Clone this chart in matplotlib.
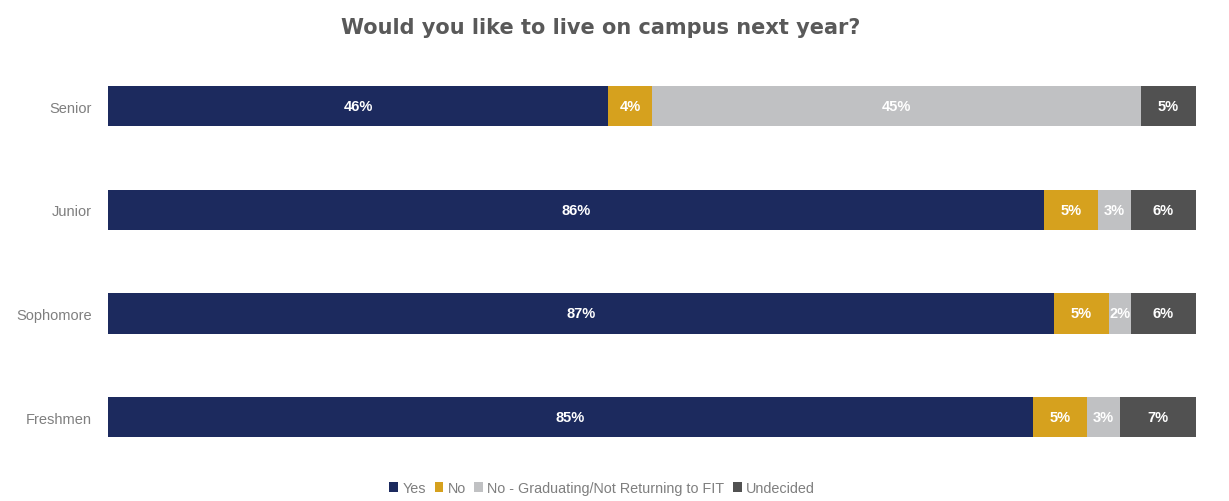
import numpy as np
import matplotlib.pyplot as plt

plt.rcParams['font.family'] = ['Liberation Sans', 'DejaVu Sans']

classes = ['Freshmen', 'Sophomore', 'Junior', 'Senior']
yes = [85, 87, 86, 46]
no = [5, 5, 5, 4]
no_grad = [3, 2, 3, 45]
undecided = [7, 6, 6, 5]

series = ['Yes', 'No', 'No - Graduating/Not Returning to FIT', 'Undecided']
colors = ['#1c2a5e', '#d6a11e', '#c0c1c3', '#515151']

fig = plt.figure(figsize=(12.29, 5.02), dpi=100)
ax = fig.add_axes([0.088, 0.064, 0.885, 0.826])

y = np.arange(len(classes))
left = np.zeros(len(classes))
for name, vals, c in zip(series, [yes, no, no_grad, undecided], colors):
    vals = np.array(vals, dtype=float)
    ax.barh(y, vals, left=left, height=0.39, color=c, label=name)
    for yi, l, v in zip(y, left, vals):
        ax.text(l + v / 2, yi, '%d%%' % v, ha='center', va='center',
                color='white', fontsize=10.5, fontweight='bold')
    left += vals

ax.set_xlim(0, 100)
ax.set_ylim(-0.5, 3.5)
ax.set_yticks(y)
ax.set_yticklabels(classes, color='#7f7f7f', fontsize=10.5)
ax.set_xticks([])
ax.tick_params(axis='y', length=0, pad=12)
for s in ax.spines.values():
    s.set_visible(False)

fig.text(0.489, 0.945, 'Would you like to live on campus next year?', ha='center',
         va='center', fontsize=15, fontweight='bold', color='#595959',
         family='DejaVu Sans')

fig.legend(loc='lower center', bbox_to_anchor=(0.49, -0.014), ncol=4, frameon=False,
           fontsize=10.4, handlelength=0.6, handleheight=0.6, handletextpad=0.3,
           columnspacing=0.6, labelcolor='#7f7f7f')

plt.savefig('out.png', dpi=100)
